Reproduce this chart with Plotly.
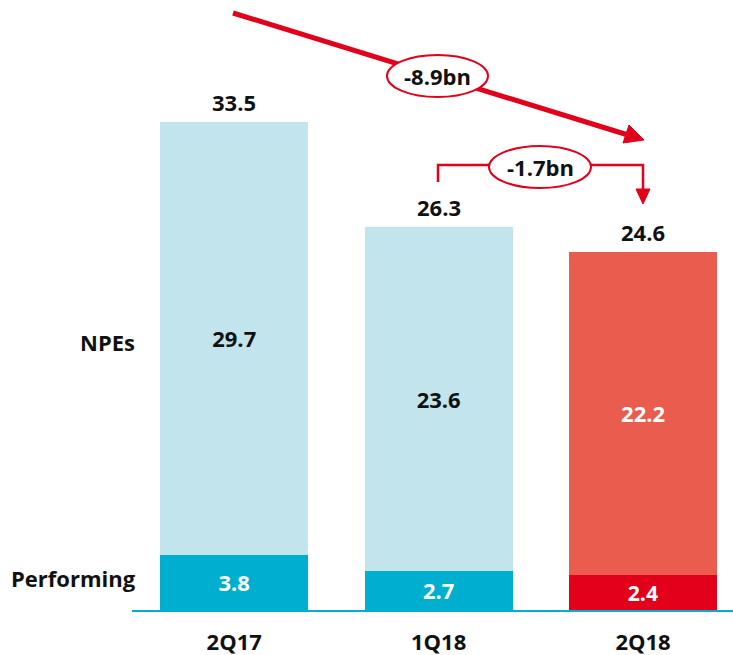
import plotly.graph_objects as go

categories = ["2Q17", "1Q18", "2Q18"]
performing = [3.8, 2.7, 2.4]
npes = [29.7, 23.6, 22.2]
totals = [33.5, 26.3, 24.6]
perf_colors = ["#00AECF", "#00AECF", "#E2001A"]
npe_colors = ["#C2E4EC", "#C2E4EC", "#E95C4E"]
npe_text_colors = ["#111111", "#111111", "#FFFFFF"]
change_total = "-8.9bn"
change_q = "-1.7bn"

W, H = 733, 655
ML, MB = 132, 45
PW, PH = W - ML, H - MB
RED = "#E2001A"
FONT = "Open Sans"
FS = 22

def px(x):
    return (x - ML) / PW

def py(y):
    return (PH - y) / PH

fig = go.Figure()
fig.add_trace(go.Bar(
    x=categories, y=performing, marker=dict(color=perf_colors, line_width=0),
    text=[f"{v:.1f}" for v in performing], textposition="inside",
    insidetextanchor="middle", textangle=0,
    textfont=dict(family=FONT, size=FS, color="#FFFFFF", weight=700),
    width=0.724, hoverinfo="skip"))
fig.add_trace(go.Bar(
    x=categories, y=npes, marker=dict(color=npe_colors, line_width=0),
    text=[f"{v:.1f}" for v in npes], textposition="inside",
    insidetextanchor="middle", textangle=0,
    textfont=dict(family=FONT, size=FS, color=npe_text_colors, weight=700),
    width=0.724, hoverinfo="skip"))

annotations = []
for c, t in zip(categories, totals):
    annotations.append(dict(x=c, y=t, text=f"{t:.1f}", showarrow=False,
                            yanchor="middle", yshift=20,
                            font=dict(family=FONT, size=FS, color="#111111", weight=700)))

# row labels
annotations.append(dict(x=px(137), y=py(342), xref="paper", yref="paper", text="NPEs",
                        showarrow=False, xanchor="right", yanchor="middle",
                        font=dict(family=FONT, size=FS, color="#111111", weight=700)))
annotations.append(dict(x=px(138), y=py(578), xref="paper", yref="paper", text="Performing",
                        showarrow=False, xanchor="right", yanchor="middle",
                        font=dict(family=FONT, size=FS, color="#111111", weight=700)))

shapes = []
# big arrow line
shapes.append(dict(type="line", xref="paper", yref="paper",
                   x0=px(233), y0=py(13), x1=px(628), y1=py(135),
                   line=dict(color=RED, width=5)))
# arrowhead big
shapes.append(dict(type="path", xref="paper", yref="paper",
                   path=f"M {px(644)} {py(140)} L {px(623)} {py(143)} L {px(629)} {py(125)} Z",
                   fillcolor=RED, line=dict(color=RED, width=1)))
# ellipse big
shapes.append(dict(type="circle", xref="paper", yref="paper",
                   x0=px(387), x1=px(488), y0=py(55), y1=py(97),
                   fillcolor="#FFFFFF", line=dict(color=RED, width=2)))
# bracket
shapes.append(dict(type="path", xref="paper", yref="paper",
                   path=f"M {px(438)} {py(182)} L {px(438)} {py(165)} L {px(643)} {py(165)} L {px(643)} {py(190)}",
                   line=dict(color=RED, width=2.5)))
shapes.append(dict(type="path", xref="paper", yref="paper",
                   path=f"M {px(643)} {py(204)} L {px(636)} {py(189)} L {px(650)} {py(189)} Z",
                   fillcolor=RED, line=dict(color=RED, width=1)))
shapes.append(dict(type="circle", xref="paper", yref="paper",
                   x0=px(489), x1=px(591), y0=py(146), y1=py(188),
                   fillcolor="#FFFFFF", line=dict(color=RED, width=2)))

annotations.append(dict(x=px(437.5), y=py(76), xref="paper", yref="paper", text=change_total,
                        showarrow=False, xanchor="center", yanchor="middle",
                        font=dict(family=FONT, size=FS, color="#111111", weight=700)))
annotations.append(dict(x=px(540), y=py(167), xref="paper", yref="paper", text=change_q,
                        showarrow=False, xanchor="center", yanchor="middle",
                        font=dict(family=FONT, size=FS, color="#111111", weight=700)))

fig.update_layout(
    barmode="stack", width=W, height=H,
    margin=dict(l=ML, r=0, t=0, b=MB, pad=0),
    paper_bgcolor="#FFFFFF", plot_bgcolor="#FFFFFF",
    showlegend=False, annotations=annotations, shapes=shapes,
    uniformtext=dict(mode=False),
    xaxis=dict(range=[-0.5, 2.44], showline=True, linecolor="#00AECF", linewidth=2,
               showgrid=False, zeroline=False, ticks="", ticklabelstandoff=12,
               tickfont=dict(family=FONT, size=FS, color="#111111", weight=700),
               fixedrange=True),
    yaxis=dict(range=[0, PH / 14.57], visible=False, fixedrange=True),
)

fig.write_html("out.html", config={"displayModeBar": False},
               post_script="document.body.style.margin='0';document.body.style.overflow='hidden';")
